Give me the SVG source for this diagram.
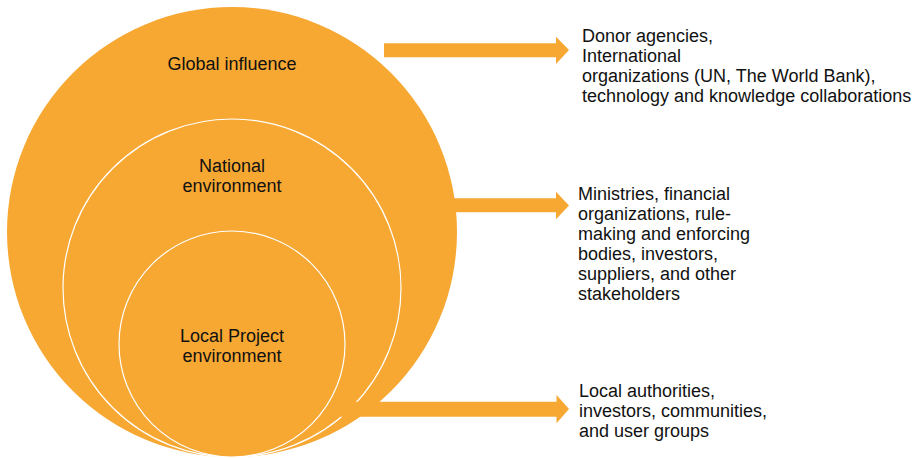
<svg xmlns="http://www.w3.org/2000/svg" width="918" height="458" viewBox="0 0 918 458">
  <style>
    .fill { fill: #F6A833; }
    .ring { fill: #F6A833; stroke: #FFFFFF; stroke-width: 1.2; }
    .t { font-family: "Liberation Sans", Arial, sans-serif; font-size: 18px; fill: #111111; }
    .c { text-anchor: middle; }
  </style>
  <rect width="918" height="458" fill="#FFFFFF"/>
  <g id="global">
    <circle class="fill" cx="232" cy="232" r="225"/>
    <text class="t c" x="232" y="70">Global influence</text>
  </g>
  <g id="national">
    <circle class="ring" cx="232" cy="288" r="169"/>
    <text class="t c" x="232" y="172">National</text>
    <text class="t c" x="232" y="192">environment</text>
  </g>
  <g id="local">
    <circle class="ring" cx="232" cy="344" r="113"/>
    <text class="t c" x="232" y="342">Local Project</text>
    <text class="t c" x="232" y="362">environment</text>
  </g>
  <g id="connectors">
    <polygon class="fill" points="384,43.3 556,43.3 556,36.7 569,50 556,64 556,57.3 384,57.3"/>
    <polygon class="fill" points="440,198.3 556,198.3 556,191.7 569,205.5 556,219.3 556,212.3 440,212.3"/>
    <polygon class="fill" points="336,401.7 556.5,401.7 556.5,395 569,409 556.5,423.3 556.5,416.7 336,416.7"/>
  </g>
  <g id="global-actors">
    <text class="t" x="582" y="42">Donor agencies,</text>
    <text class="t" x="582" y="62">International</text>
    <text class="t" x="582" y="82">organizations (UN, The World Bank),</text>
    <text class="t" x="582" y="102">technology and knowledge collaborations</text>
  </g>
  <g id="national-actors">
    <text class="t" x="578" y="200">Ministries, financial</text>
    <text class="t" x="578" y="220">organizations, rule-</text>
    <text class="t" x="578" y="240">making and enforcing</text>
    <text class="t" x="578" y="260">bodies, investors,</text>
    <text class="t" x="578" y="280">suppliers, and other</text>
    <text class="t" x="578" y="300">stakeholders</text>
  </g>
  <g id="local-actors">
    <text class="t" x="579" y="397">Local authorities,</text>
    <text class="t" x="579" y="417">investors, communities,</text>
    <text class="t" x="579" y="437">and user groups</text>
  </g>
</svg>
